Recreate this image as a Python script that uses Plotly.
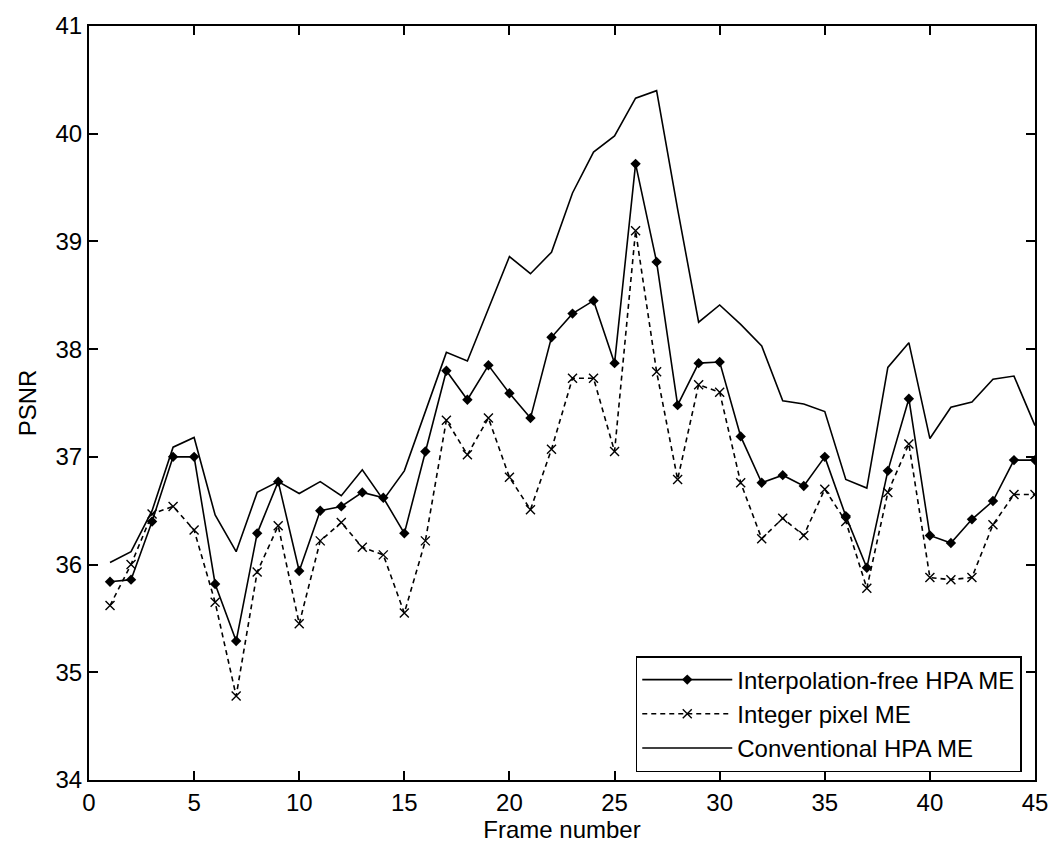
import plotly.graph_objects as go

frames = list(range(1, 46))

interp_free = [35.84, 35.86, 36.40, 37.00, 37.00, 35.82, 35.29, 36.29, 36.77, 35.94,
               36.50, 36.54, 36.67, 36.62, 36.29, 37.05, 37.80, 37.53, 37.85, 37.59,
               37.36, 38.11, 38.33, 38.45, 37.87, 39.72, 38.81, 37.48, 37.87, 37.88,
               37.19, 36.76, 36.83, 36.73, 37.00, 36.45, 35.97, 36.87, 37.54, 36.27,
               36.20, 36.42, 36.59, 36.97, 36.97]

integer_pixel = [35.62, 36.00, 36.47, 36.54, 36.32, 35.65, 34.78, 35.93, 36.36, 35.45,
                 36.22, 36.39, 36.16, 36.09, 35.55, 36.22, 37.34, 37.02, 37.36, 36.81,
                 36.51, 37.07, 37.73, 37.73, 37.05, 39.10, 37.79, 36.79, 37.67, 37.60,
                 36.76, 36.24, 36.43, 36.27, 36.70, 36.40, 35.78, 36.67, 37.12, 35.88,
                 35.86, 35.88, 36.37, 36.65, 36.65]

conventional = [36.02, 36.12, 36.50, 37.09, 37.18, 36.46, 36.12, 36.67, 36.77, 36.66,
                36.77, 36.64, 36.88, 36.60, 36.87, 37.42, 37.97, 37.89, 38.38, 38.86,
                38.70, 38.90, 39.45, 39.83, 39.98, 40.33, 40.40, 39.30, 38.25, 38.41,
                38.23, 38.03, 37.52, 37.49, 37.42, 36.79, 36.71, 37.83, 38.06, 37.17,
                37.46, 37.51, 37.72, 37.75, 37.29]

x_ticks = [0, 5, 10, 15, 20, 25, 30, 35, 40, 45]
y_ticks = [34, 35, 36, 37, 38, 39, 40, 41]

font_family = "Liberation Sans Narrow, Arial Narrow, Liberation Sans, Arial, sans-serif"

fig = go.Figure()
fig.add_trace(go.Scatter(
    x=frames, y=interp_free, mode="lines+markers", name="Interpolation-free HPA ME",
    line=dict(color="black", width=1.6),
    marker=dict(symbol="diamond", size=8, color="black"),
))
fig.add_trace(go.Scatter(
    x=frames, y=integer_pixel, mode="lines+markers", name="Integer pixel ME",
    line=dict(color="black", width=1.6, dash="5px,4px"),
    marker=dict(symbol="x-thin", size=9, color="black", line=dict(width=1.4, color="black")),
))
fig.add_trace(go.Scatter(
    x=frames, y=conventional, mode="lines", name="Conventional HPA ME",
    line=dict(color="black", width=1.6),
))

axis_common = dict(
    showgrid=False, zeroline=False, showline=True, linecolor="black", linewidth=2,
    mirror="ticks", ticks="inside", ticklen=9, tickwidth=1.5, tickcolor="black",
    tickfont=dict(family=font_family, size=24, color="black"),
)

fig.update_xaxes(range=[0, 45], tickvals=x_ticks,
                 title=dict(text="Frame number", font=dict(family=font_family, size=24, color="black"), standoff=4),
                 **axis_common)
fig.update_yaxes(range=[34, 41], tickvals=y_ticks,
                 title=dict(text="PSNR", font=dict(family=font_family, size=24, color="black"), standoff=12),
                 **axis_common)

fig.update_layout(
    width=1060, height=854,
    margin=dict(l=89, r=18, t=23, b=74),
    paper_bgcolor="white", plot_bgcolor="white",
    showlegend=True,
    legend=dict(
        x=0.986, y=0.0106, xanchor="right", yanchor="bottom",
        bgcolor="white", bordercolor="black", borderwidth=1.5,
        font=dict(family=font_family, size=24, color="black"),
        itemwidth=90, tracegroupgap=0,
    ),
)

fig.write_html("out.html")
